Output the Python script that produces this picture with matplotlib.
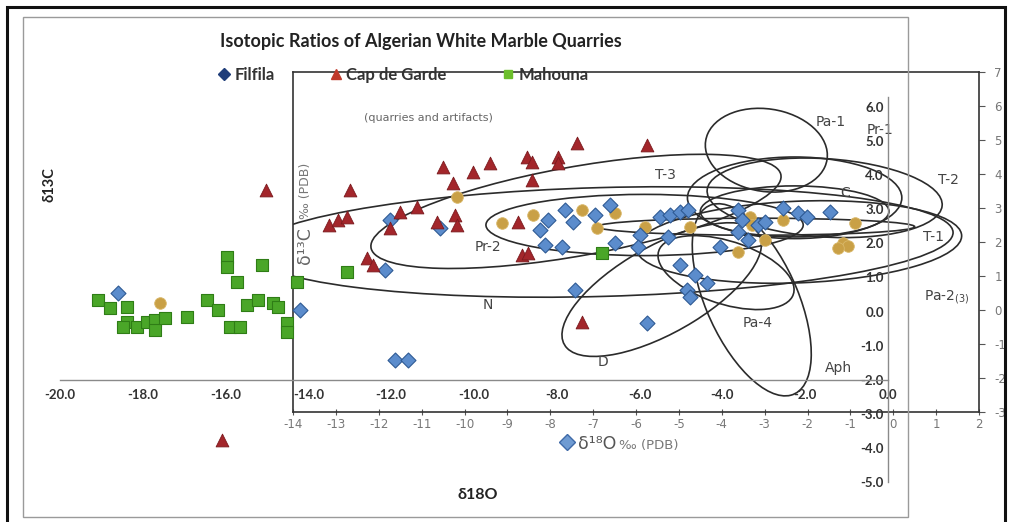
import matplotlib
matplotlib.use("Agg")
import matplotlib.pyplot as plt
from matplotlib.patches import Ellipse, Rectangle
from matplotlib.lines import Line2D

plt.rcParams['axes.unicode_minus'] = False

# ---------------- Excel chart data (delta18O, delta13C) ----------------
filfila_x = [-18.60, -14.20, -12.03, -10.82, -12.15, -11.91, -11.59, -7.80, -8.21, -8.41,
             -8.29, -7.87, -7.61, -7.08, -6.71, -6.59, -5.99, -6.04, -7.56, -5.82,
             -5.51, -5.27, -5.02, -4.83, -5.31, -5.02, -4.66, -4.37, -4.86, -4.78,
             -4.06, -3.62, -3.53, -3.62, -3.38, -3.14, -2.97, -2.54, -2.17, -1.96, -1.40]
filfila_y = [0.55, 0.05, 2.69, 2.45, 1.22, -1.42, -1.42, 2.98, 2.69, 2.39,
             1.95, 1.89, 2.63, 2.83, 3.13, 2.01, 2.25, 1.89, 0.63, -0.33,
             2.77, 2.83, 2.92, 2.98, 2.19, 1.37, 1.07, 0.84, 0.63, 0.43,
             1.89, 2.98, 2.69, 2.33, 2.10, 2.54, 2.63, 3.04, 2.89, 2.77, 2.92]

capgarde_x = [-15.02, -16.09, -13.00, -13.50, -13.29, -13.07, -11.79, -11.38, -10.75, -10.51,
              -10.02, -9.61, -12.03, -10.89, -10.46, -10.41, -12.58, -12.44, -8.94, -8.84,
              -8.70, -8.72, -8.60, -7.97, -7.97, -8.60, -7.51, -5.82, -7.39]
capgarde_y = [3.57, -3.77, 3.57, 2.54, 2.69, 2.77, 2.92, 3.07, 4.24, 3.77,
              4.09, 4.36, 2.45, 2.63, 2.83, 2.54, 1.57, 1.37, 2.63, 1.66,
              1.72, 4.53, 4.39, 4.53, 4.36, 3.86, 4.94, 4.89, -0.30]

mahouna_x = [-19.08, -18.79, -18.38, -18.38, -18.48, -18.14, -17.90, -17.71, -17.71, -17.46,
             -16.93, -16.45, -16.18, -15.97, -15.97, -15.72, -15.89, -15.65, -15.48, -15.22,
             -15.12, -14.86, -14.73, -14.52, -14.52, -14.28, -13.07, -6.91]
mahouna_y = [0.34, 0.11, 0.13, -0.30, -0.45, -0.45, -0.30, -0.25, -0.54, -0.19,
             -0.16, 0.34, 0.05, 1.60, 1.31, 0.87, -0.45, -0.45, 0.19, 0.34,
             1.37, 0.25, 0.13, -0.33, -0.60, 0.87, 1.16, 1.72]

artifact_x = [-17.58, -10.41, -9.32, -8.57, -7.39, -7.03, -6.59, -5.87, -4.78, -3.33,
              -3.29, -2.97, -3.62, -2.54, -0.80, -1.09, -0.97, -1.21]
artifact_y = [0.25, 3.36, 2.60, 2.83, 2.98, 2.45, 2.89, 2.48, 2.48, 2.77,
              2.54, 2.10, 1.75, 2.69, 2.60, 2.01, 1.92, 1.87]

excel_xticks = [-20, -18, -16, -14, -12, -10, -8, -6, -4, -2, 0]
excel_yticks = [-5, -4, -3, -2, -1, 0, 1, 2, 3, 4, 5, 6]

# ---------------- Overlaid reference diagram (marble source fields) ----------------
field_names = ['N', 'T-3', 'Pr-2', 'D', 'Aph', 'Pa-4', 'Pa-1', 'T-2', 'Pr-1', 'C', 'T-1', 'Pa-2']
field_cx = [-6.8, -7.4, -5.8, -5.4, -3.3, -3.9, -2.96, -1.6, -2.3, -2.3, -3.2, -2.2]
field_cy = [2.0, 2.9, 2.5, 0.6, 0.3, 1.1, 4.7, 3.3, 3.3, 2.9, 2.45, 2.0]
field_w = [16.4, 9.8, 7.4, 5.6, 5.9, 3.4, 2.9, 5.5, 5.0, 4.4, 7.4, 7.6]
field_h = [3.2, 2.6, 1.8, 2.4, 2.2, 1.8, 2.4, 2.3, 2.4, 1.5, 0.5, 2.4]
field_ang = [2, 13, 0, 38, -72, -25, -20, -5, 0, 0, 0, 3]

label_txt = ['Pa-1', 'Pr-1', 'T-2', 'C', 'T-1', 'Pa-2$_{\\mathregular{(3)}}$', 'T-3', 'Pr-2',
             'N', 'D', 'Pa-4', 'Aph']
label_x = [-1.47, -0.30, 1.28, -1.12, 0.93, 1.25, -5.31, -9.46, -9.46, -6.78, -3.17, -1.28]
label_y = [5.53, 5.29, 3.82, 3.44, 2.15, 0.38, 3.97, 1.85, 0.15, -1.53, -0.38, -1.71]

scan_xticks = list(range(-14, 3))
scan_yticks = list(range(-3, 8))

W, H = 1010, 522
fig = plt.figure(figsize=(W / 100, H / 100), dpi=100)
fig.patch.set_facecolor('white')

# frames
fig.add_artist(Rectangle((23 / W, 1 - 517 / H), (908 - 23) / W, (517 - 17) / H,
                         transform=fig.transFigure, fill=False, ec='#9a9a9a', lw=1.0))
fig.add_artist(Rectangle((7 / W, -0.02), (1005 - 7) / W, 1 - 7 / H + 0.02,
                         transform=fig.transFigure, fill=False, ec='#111111', lw=2.2))

# ---------- scanned diagram axes ----------
axs = fig.add_axes([293 / W, 1 - 412 / H, (979 - 293) / W, (412 - 72) / H])
axs.patch.set_visible(False)
axs.set_xlim(-14, 2)
axs.set_ylim(-3, 7)
for s in axs.spines.values():
    s.set_color('#333333')
    s.set_linewidth(1.2)
axs.set_xticks(scan_xticks)
axs.set_xticklabels([str(v) for v in scan_xticks])
axs.set_yticks(scan_yticks)
axs.set_yticklabels([str(v) for v in scan_yticks])
axs.yaxis.tick_right()
axs.tick_params(axis='x', direction='inout', length=5, width=0.8, colors='#555555',
                labelsize=8.5, pad=2)
axs.tick_params(axis='y', direction='out', length=4, width=0.8, colors='#555555',
                labelsize=8.5, pad=7)
for lbl in axs.get_xticklabels() + axs.get_yticklabels():
    lbl.set_color('#777777')

for cx, cy, w, h, a in zip(field_cx, field_cy, field_w, field_h, field_ang):
    axs.add_patch(Ellipse((cx, cy), w, h, angle=a, fill=False, ec='#2b2b2b', lw=1.2,
                          clip_on=True))

for t, x, y in zip(label_txt, label_x, label_y):
    axs.text(x, y, t, ha='center', va='center', fontsize=10, color='#444444',
             family='DejaVu Sans', clip_on=False)

axs.text(-10.84, 5.65, '(quarries and artifacts)', ha='center', va='center', fontsize=8,
         color='#666666', family='DejaVu Sans')
axs.text(-13.72, 3.5, '‰ (PDB)', rotation=90, ha='center', va='center',
         fontsize=9, color='#777777', family='DejaVu Sans')
axs.text(-13.72, 1.9, 'δ¹³C', rotation=90, ha='center', va='center',
         fontsize=12.5, color='#666666', family='DejaVu Sans')
axs.plot([-7.6], [-3.88], marker='D', ms=8, mfc='#6f9bd2', mec='#3f6aa8', clip_on=False,
         ls='none')
axs.text(-7.35, -3.95, 'δ¹⁸O', ha='left', va='center', fontsize=12.5,
         color='#555555', family='DejaVu Sans', clip_on=False)
axs.text(-6.4, -3.98, '‰ (PDB)', ha='left', va='center', fontsize=9.5,
         color='#777777', family='DejaVu Sans', clip_on=False)

# ---------- Excel chart axes ----------
axe = fig.add_axes([60 / W, 1 - 482 / H, (888 - 60) / W, (482 - 96.8) / H])
axe.patch.set_visible(False)
axe.set_xlim(-20, 0)
axe.set_ylim(-5, 6.3)
axe.spines['top'].set_visible(False)
axe.spines['right'].set_visible(False)
axe.spines['left'].set_position(('data', 0))
axe.spines['bottom'].set_position(('data', -2))
axe.spines['left'].set_color('#8a8a8a')
axe.spines['bottom'].set_color('#8a8a8a')
axe.spines['left'].set_linewidth(1.0)
axe.spines['bottom'].set_linewidth(1.0)
axe.set_xticks(excel_xticks)
axe.set_xticklabels(['%.1f' % v for v in excel_xticks])
axe.set_yticks(excel_yticks)
axe.set_yticklabels(['%.1f' % v for v in excel_yticks])
axe.tick_params(length=0, labelsize=9.5, colors='#333333')
axe.tick_params(axis='x', pad=7)
axe.tick_params(axis='y', pad=3)
for lbl in axe.get_xticklabels() + axe.get_yticklabels():
    lbl.set_fontfamily('Lato')
    lbl.set_fontweight('bold')

axe.scatter(mahouna_x, mahouna_y, marker='s', s=85, c='#4aa628', edgecolors='#2f7d16',
            linewidths=0.8, zorder=3, clip_on=False)
axe.scatter(artifact_x, artifact_y, marker='o', s=70, c='#c9a046', edgecolors='#d9b86a',
            linewidths=0.6, zorder=4, clip_on=False)
axe.scatter(filfila_x, filfila_y, marker='D', s=58, c='#5b8ccc', edgecolors='#2e5a94',
            linewidths=0.8, zorder=5, clip_on=False)
axe.scatter(capgarde_x, capgarde_y, marker='^', s=85, c='#a3262b', edgecolors='#7a1a1e',
            linewidths=0.6, zorder=6, clip_on=False)

# title, legend, axis titles
fig.text(421 / W, 1 - 42 / H, 'Isotopic Ratios of Algerian White Marble Quarries',
         ha='center', va='center', fontsize=13, fontweight='bold', family='Lato',
         color='#222222')

handles = [Line2D([], [], ls='none', marker='D', ms=6, mfc='#1f3d7a', mec='#1f3d7a'),
           Line2D([], [], ls='none', marker='^', ms=7, mfc='#c0392b', mec='#c0392b'),
           Line2D([], [], ls='none', marker='s', ms=6, mfc='#6cbf2c', mec='#6cbf2c')]
leg = fig.legend(handles, ['Filfila', 'Cap de Garde', 'Mahouna'], loc='center',
                 bbox_to_anchor=(404 / W, 1 - 75 / H), ncol=3, frameon=False,
                 handlelength=0.6, handletextpad=0.3, columnspacing=3.4,
                 prop={'family': 'Lato', 'weight': 'bold', 'size': 12})
for t in leg.get_texts():
    t.set_color('#333333')

fig.text(50 / W, 1 - 185 / H, 'δ13C', rotation=90, ha='center', va='center',
         fontsize=10.5, fontweight='bold', family='Lato', color='#222222')
fig.text(478 / W, 1 - 495 / H, 'δ18O', ha='center', va='center',
         fontsize=11.5, fontweight='bold', family='Lato', color='#222222')

fig.savefig('out.png', dpi=100)
